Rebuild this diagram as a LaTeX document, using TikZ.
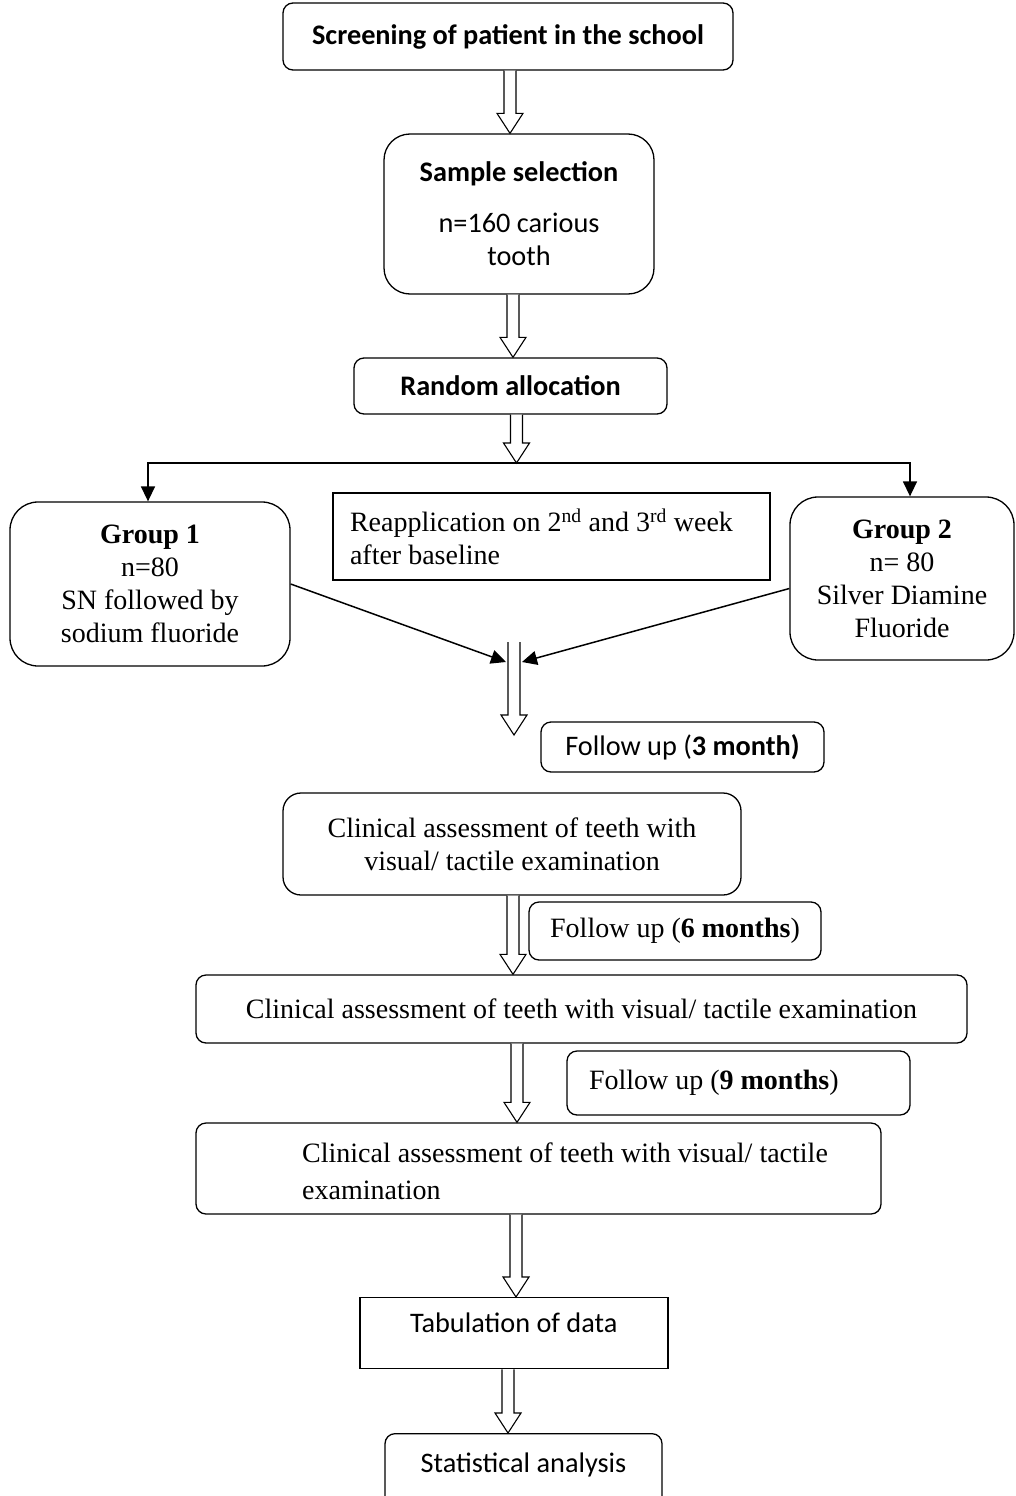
\documentclass[tikz,border=0pt]{standalone}
\usepackage{fontspec}
\setmainfont{Liberation Serif}
\newfontfamily\calibri{Carlito}
\usetikzlibrary{arrows.meta,calc}

% hollow block arrow pointing down, from #1 to #2
\newcommand{\fatarrow}[2]{%
  \draw[line width=1.1pt,fill=white] let \p1=(#1), \p2=(#2) in
    (\x1-6pt,\y1) -- (\x1-6pt,\y2+20pt) -- (\x1-13pt,\y2+20pt) -- (\x1,\y2)
    -- (\x1+13pt,\y2+20pt) -- (\x1+6pt,\y2+20pt) -- (\x1+6pt,\y1);}

\tikzset{
  rbox/.style={draw,line width=1.3pt,rounded corners=10pt,align=center,inner sep=0pt},
  sbox/.style={draw,line width=1.3pt,align=flush left,inner sep=0pt},
  flow/.style={-{Triangle[length=15pt,width=14pt]},line width=1.5pt},
  txt/.style={font=\fontsize{28}{33}\selectfont},
  cal/.style={font=\calibri\fontsize{28.3}{33}\selectfont},
}

\begin{document}
\begin{tikzpicture}[x=1pt,y=-1pt]
  \fill[white] (0,0) rectangle (1016,1496);
  \useasboundingbox (0,0) rectangle (1016,1496);

  % top part
  \node[rbox,cal,minimum width=450pt,minimum height=67pt]
        (scr) at (508,36.5) {\bfseries Screening of patient in the school};
  \node[rbox,cal,rounded corners=26pt,minimum width=270pt,minimum height=160pt]
        (smp) at (519,214) {{\bfseries Sample selection}\\[18pt]n=160 carious\\tooth};
  \node[rbox,cal,minimum width=313pt,minimum height=56pt]
        (rnd) at (510.5,386) {\bfseries Random allocation};

  \fatarrow{[xshift=2pt]scr.south}{smp.north}
  \fatarrow{[xshift=-6pt]smp.south}{rnd.north}

  % the two groups
  \coordinate (split) at (517,463);
  \node[rbox,txt,rounded corners=28pt,minimum width=280pt,minimum height=164pt]
        (g1) at (150,584) {\textbf{Group 1}\\n=80\\SN followed by\\sodium fluoride};
  \node[sbox,txt,text width=403pt,inner xsep=17pt,minimum height=87pt]
        (reap) at (551.5,536.5) {Reapplication on 2\textsuperscript{nd} and 3\textsuperscript{rd} week\\after baseline};
  \node[rbox,txt,rounded corners=28pt,minimum width=224pt,minimum height=163pt]
        (g2) at (902,578.5) {\textbf{Group 2}\\n= 80\\Silver Diamine\\Fluoride};

  \fatarrow{[xshift=6pt]rnd.south}{split}
  \draw[flow] (split) -| ([xshift=-2pt]g1.north);
  \draw[flow] (split) -| ([xshift=8pt]g2.north);

  \coordinate (mtop) at (514,642);
  \coordinate (mtip) at (514,735);
  \draw[flow] (g1.east) -- (506,662);
  \draw[flow] ([yshift=-10pt]g2.west) -- (522,662);
  \fatarrow{mtop}{mtip}

  % follow ups
  \node[rbox,cal,minimum width=283pt,minimum height=50pt]
        (fu3) at (682.5,747) {Follow up (\textbf{3 month)}};
  \node[rbox,txt,rounded corners=18pt,minimum width=458pt,minimum height=102pt]
        (cl1) at (512,844) {Clinical assessment of teeth with\\visual/ tactile examination};
  \node[rbox,txt,minimum width=292pt,minimum height=58pt]
        (fu6) at (675,931) {Follow up (\textbf{6 months})};
  \node[rbox,txt,minimum width=771pt,minimum height=68pt]
        (cl2) at (581.5,1009) {Clinical assessment of teeth with visual/ tactile examination};
  \node[rbox,txt,align=flush left,text width=299pt,inner xsep=22pt,minimum height=64pt]
        (fu9) at (738.5,1083) {Follow up (\textbf{9 months})};
  \node[rbox,minimum width=685pt,minimum height=91pt]
        (cl3) at (538.5,1168.5) {};
  \node[txt,anchor=west,align=flush left,inner sep=0pt]
        (cl3txt) at (302,1171) {Clinical assessment of teeth with visual/ tactile\\[4pt]examination};

  \fatarrow{[xshift=1pt]cl1.south}{[xshift=-68.5pt]cl2.north}
  \fatarrow{[xshift=-64.5pt]cl2.south}{[xshift=-21.5pt]cl3.north}

  % end
  \node[sbox,cal,anchor=north,text width=208pt,inner xsep=50pt,inner ysep=0pt,
        text height=35pt,text depth=36pt]
        (tab) at (514,1297) {Tabulation of data};
  \node[rbox,cal,anchor=north,minimum width=277pt,inner ysep=0pt,
        text height=39pt,text depth=50pt]
        (stat) at (523.5,1433) {Statistical analysis};

  \fatarrow{[xshift=-22.5pt]cl3.south}{[xshift=2pt]tab.north}
  \fatarrow{[xshift=-6pt]tab.south}{[xshift=-15.5pt]stat.north}
\end{tikzpicture}
\end{document}
